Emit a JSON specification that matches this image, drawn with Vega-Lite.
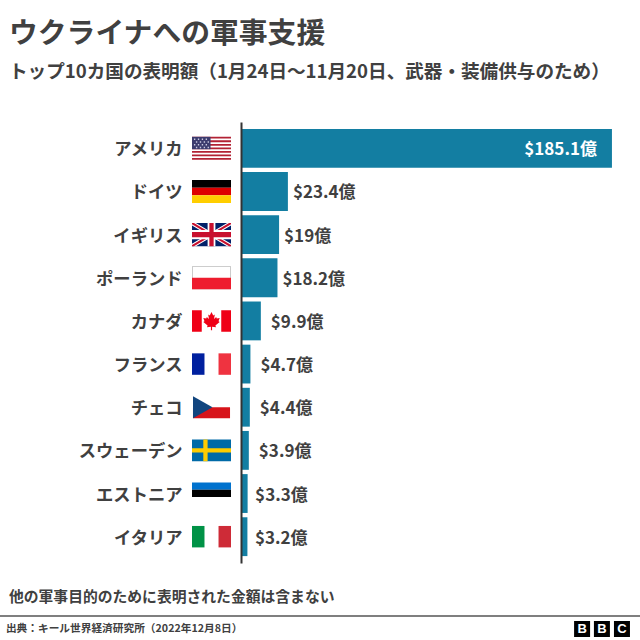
{"$schema":"https://vega.github.io/schema/vega-lite/v6.json","width":640,"height":441,"autosize":{"type":"none"},"padding":{"left":0,"top":122,"right":0,"bottom":77},"background":"white","config":{"font":"Noto Sans CJK JP","view":{"stroke":null}},"title":{"text":"ウクライナへの軍事支援","subtitle":"トップ10カ国の表明額（1月24日～11月20日、武器・装備供与のため）","anchor":"start","frame":"group","dx":9,"offset":40,"font":"Noto Sans CJK JP","fontSize":28.8,"fontWeight":"bold","color":"#404040","subtitleFont":"Noto Sans CJK JP","subtitleFontSize":18.6,"subtitleFontWeight":"bold","subtitleColor":"#404040","subtitlePadding":15},"datasets":{"aid":[{"country":"アメリカ","value":185.1,"label":"$185.1億"},{"country":"ドイツ","value":23.4,"label":"$23.4億"},{"country":"イギリス","value":19,"label":"$19億"},{"country":"ポーランド","value":18.2,"label":"$18.2億"},{"country":"カナダ","value":9.9,"label":"$9.9億"},{"country":"フランス","value":4.7,"label":"$4.7億"},{"country":"チェコ","value":4.4,"label":"$4.4億"},{"country":"スウェーデン","value":3.9,"label":"$3.9億"},{"country":"エストニア","value":3.3,"label":"$3.3億"},{"country":"イタリア","value":3.2,"label":"$3.2億"}],"flags":[{"country":"アメリカ","part":"us-red","pos":-14.72},{"country":"アメリカ","part":"us-blue","pos":-14.72},{"country":"アメリカ","part":"us-stars","pos":-14.72},{"country":"ドイツ","part":"de-black","pos":-14.72},{"country":"ドイツ","part":"de-red","pos":-14.72},{"country":"ドイツ","part":"de-gold","pos":-14.72},{"country":"イギリス","part":"uk-blue","pos":-14.72},{"country":"イギリス","part":"uk-wdiag","pos":-14.72},{"country":"イギリス","part":"uk-rdiag","pos":-14.72},{"country":"イギリス","part":"uk-wcross","pos":-14.72},{"country":"イギリス","part":"uk-rcross","pos":-14.72},{"country":"ポーランド","part":"pl-frame","pos":-14.72},{"country":"ポーランド","part":"pl-white","pos":-14.72},{"country":"ポーランド","part":"pl-red","pos":-14.72},{"country":"カナダ","part":"ca-bars","pos":-14.72},{"country":"カナダ","part":"ca-leaf","pos":-14.72},{"country":"フランス","part":"fr-blue","pos":-14.72},{"country":"フランス","part":"fr-red","pos":-14.72},{"country":"チェコ","part":"cz-red","pos":-14.72},{"country":"チェコ","part":"cz-blue","pos":-14.72},{"country":"スウェーデン","part":"se-blue","pos":-14.72},{"country":"スウェーデン","part":"se-yellow","pos":-14.72},{"country":"エストニア","part":"ee-blue","pos":-14.72},{"country":"エストニア","part":"ee-black","pos":-14.72},{"country":"イタリア","part":"it-green","pos":-14.72},{"country":"イタリア","part":"it-red","pos":-14.72}],"footer":[{"line":"note","text":"他の軍事目的のために表明された金額は含まない","pos":-115.8},{"line":"source","text":"出典：キール世界経済研究所（2022年12月8日）","pos":-117.3}],"logo":[{"line":"source","letter":"B","pos":170.2},{"line":"source","letter":"B ","pos":180.1},{"line":"source","letter":"C","pos":190.1}],"rule":[{"line":"rule"}]},"resolve":{"scale":{"y":"independent"},"axis":{"y":"independent"}},"layer":[{"data":{"name":"aid"},"mark":{"type":"bar","color":"#137ea2"},"encoding":{"x":{"field":"value","type":"quantitative","axis":null,"scale":{"domain":[-120.26,199.1],"nice":false,"zero":false}},"y":{"field":"country","type":"nominal","title":null,"scale":{"type":"band","domain":["アメリカ","ドイツ","イギリス","ポーランド","カナダ","フランス","チェコ","スウェーデン","エストニア","イタリア"],"paddingInner":0.1,"paddingOuter":0.16},"axis":{"orient":"left","offset":-241,"ticks":false,"domainColor":"#333333","domainWidth":2,"labelPadding":59,"labelOffset":2,"labelFont":"Noto Sans CJK JP","labelFontSize":17.3,"labelFontWeight":"bold","labelColor":"#404040","zindex":1}}}},{"data":{"name":"aid"},"transform":[{"filter":"datum.value > 100"}],"mark":{"type":"text","align":"right","dx":-15,"dy":2,"font":"Noto Sans CJK JP","fontSize":17,"fontWeight":"bold","color":"white"},"encoding":{"x":{"field":"value","type":"quantitative"},"text":{"field":"label"},"y":{"field":"country","type":"nominal","axis":null,"scale":{"type":"band","domain":["アメリカ","ドイツ","イギリス","ポーランド","カナダ","フランス","チェコ","スウェーデン","エストニア","イタリア"],"paddingInner":0.1,"paddingOuter":0.16}}}},{"data":{"name":"aid"},"transform":[{"filter":"datum.value <= 100 && datum.value >= 18"}],"mark":{"type":"text","align":"left","dx":5,"dy":2,"font":"Noto Sans CJK JP","fontSize":17,"fontWeight":"bold","color":"#404040"},"encoding":{"x":{"field":"value","type":"quantitative"},"text":{"field":"label"},"y":{"field":"country","type":"nominal","axis":null,"scale":{"type":"band","domain":["アメリカ","ドイツ","イギリス","ポーランド","カナダ","フランス","チェコ","スウェーデン","エストニア","イタリア"],"paddingInner":0.1,"paddingOuter":0.16}}}},{"data":{"name":"aid"},"transform":[{"filter":"datum.value < 18 && datum.value >= 3.5"}],"mark":{"type":"text","align":"left","dx":10,"dy":2,"font":"Noto Sans CJK JP","fontSize":17,"fontWeight":"bold","color":"#404040"},"encoding":{"x":{"field":"value","type":"quantitative"},"text":{"field":"label"},"y":{"field":"country","type":"nominal","axis":null,"scale":{"type":"band","domain":["アメリカ","ドイツ","イギリス","ポーランド","カナダ","フランス","チェコ","スウェーデン","エストニア","イタリア"],"paddingInner":0.1,"paddingOuter":0.16}}}},{"data":{"name":"aid"},"transform":[{"filter":"datum.value < 3.5"}],"mark":{"type":"text","align":"left","dx":7.5,"dy":2,"font":"Noto Sans CJK JP","fontSize":17,"fontWeight":"bold","color":"#404040"},"encoding":{"x":{"field":"value","type":"quantitative"},"text":{"field":"label"},"y":{"field":"country","type":"nominal","axis":null,"scale":{"type":"band","domain":["アメリカ","ドイツ","イギリス","ポーランド","カナダ","フランス","チェコ","スウェーデン","エストニア","イタリア"],"paddingInner":0.1,"paddingOuter":0.16}}}},{"data":{"name":"flags"},"mark":{"type":"point","filled":true,"opacity":1,"size":1521,"strokeWidth":0},"encoding":{"x":{"field":"pos","type":"quantitative"},"y":{"field":"country","type":"nominal","axis":null,"scale":{"type":"band","domain":["アメリカ","ドイツ","イギリス","ポーランド","カナダ","フランス","チェコ","スウェーデン","エストニア","イタリア"],"paddingInner":0.1,"paddingOuter":0.16}},"shape":{"field":"part","type":"nominal","legend":null,"scale":{"domain":["us-red","us-blue","us-stars","de-black","de-red","de-gold","uk-blue","uk-wdiag","uk-rdiag","uk-wcross","uk-rcross","pl-frame","pl-white","pl-red","ca-bars","ca-leaf","fr-blue","fr-red","cz-red","cz-blue","se-blue","se-yellow","ee-blue","ee-black","it-green","it-red"],"range":["M-1 -.59H1V-.499H-1ZM-1 -.408H1V-.317H-1ZM-1 -.226H1V-.135H-1ZM-1 -.045H1V.045H-1ZM-1 .135H1V.226H-1ZM-1 .317H1V.408H-1ZM-1 .499H1V.59H-1Z","M-1 -.59H-.05V.045H-1Z","M-.9 -.5h.07v.07h-.07zM-.7 -.5h.07v.07h-.07zM-.5 -.5h.07v.07h-.07zM-.3 -.5h.07v.07h-.07zM-.8 -.36h.07v.07h-.07zM-.6 -.36h.07v.07h-.07zM-.4 -.36h.07v.07h-.07zM-.2 -.36h.07v.07h-.07zM-.9 -.22h.07v.07h-.07zM-.7 -.22h.07v.07h-.07zM-.5 -.22h.07v.07h-.07zM-.3 -.22h.07v.07h-.07zM-.8 -.08h.07v.07h-.07zM-.6 -.08h.07v.07h-.07zM-.4 -.08h.07v.07h-.07zM-.2 -.08h.07v.07h-.07z","M-1 -.59H1V-.197H-1Z","M-1 -.197H1V.197H-1Z","M-1 .197H1V.59H-1Z","M-1 -.59H1V.59H-1Z","M-1 -.59L-.8 -.59L1 .47L1 .59L.8 .59L-1 -.47ZM1 -.59L.8 -.59L-1 .47L-1 .59L-.8 .59L1 -.47Z","M-1 -.59L-.9 -.59L1 .53L1 .59L.9 .59L-1 -.53ZM1 -.59L.9 -.59L-1 .53L-1 .59L-.9 .59L1 -.53Z","M-.2 -.59H.2V-.24H1V.24H.2V.59H-.2V.24H-1V-.24H-.2Z","M-.11 -.59H.11V-.14H1V.14H.11V.59H-.11V.14H-1V-.14H-.11Z","M-1 -.59H1V.59H-1Z","M-.96 -.55H.96V.02H-.96Z","M-1 0H1V.59H-1Z","M-1 -.55H-.5V.55H-1ZM.5 -.55H1V.55H.5Z","M0 -.46L.09 -.28L.17 -.33L.13 -.1L.24 -.2L.27 -.12L.42 -.15L.36 .02L.42 .06L.2 .24L.23 .33L.03 .3V.48H-.03V.3L-.23 .33L-.2 .24L-.42 .06L-.36 .02L-.42 -.15L-.27 -.12L-.24 -.2L-.13 -.1L-.17 -.33L-.09 -.28Z","M-1 -.55H-.36V.55H-1Z","M.36 -.55H1V.55H.36Z","M-.95 0H.95V.56H-.95Z","M-.95 -.56L.05 0L-.95 .56Z","M-1 -.56H1V.56H-1Z","M-.42 -.56H-.2V-.11H1V.11H-.2V.56H-.42V.11H-1V-.11H-.42Z","M-1 -.56H1V-.19H-1Z","M-1 -.19H1V.18H-1Z","M-1 -.55H-.36V.55H-1Z","M.36 -.55H1V.55H.36Z"]}},"color":{"field":"part","type":"nominal","legend":null,"scale":{"domain":["us-red","us-blue","us-stars","de-black","de-red","de-gold","uk-blue","uk-wdiag","uk-rdiag","uk-wcross","uk-rcross","pl-frame","pl-white","pl-red","ca-bars","ca-leaf","fr-blue","fr-red","cz-red","cz-blue","se-blue","se-yellow","ee-blue","ee-black","it-green","it-red"],"range":["#b22234","#3c3b6e","#c9c9e0","#000000","#dd0000","#ffce00","#012169","#ffffff","#c8102e","#ffffff","#c8102e","#bdbdbd","#ffffff","#ee1c2e","#ef0016","#ef0016","#00209f","#ef3340","#d7141a","#11457e","#006aa7","#fecc00","#0072ce","#000000","#009246","#ce2b37"]}}}},{"data":{"name":"rule"},"mark":{"type":"rule","color":"#555555","strokeWidth":1.5},"encoding":{"y":{"field":"line","type":"nominal","axis":null,"scale":{"type":"point","domain":["note","rule","source"],"range":[481,507],"padding":0}}}},{"data":{"name":"footer"},"transform":[{"filter":"datum.line === 'note'"}],"mark":{"type":"text","align":"left","dy":-5,"font":"Noto Sans CJK JP","fontSize":14.8,"fontWeight":"bold","color":"#404040"},"encoding":{"x":{"field":"pos","type":"quantitative"},"text":{"field":"text"},"y":{"field":"line","type":"nominal","axis":null,"scale":{"type":"point","domain":["note","rule","source"],"range":[481,507],"padding":0}}}},{"data":{"name":"footer"},"transform":[{"filter":"datum.line === 'source'"}],"mark":{"type":"text","align":"left","font":"Noto Sans CJK JP","fontSize":10.7,"fontWeight":"bold","color":"#404040"},"encoding":{"x":{"field":"pos","type":"quantitative"},"text":{"field":"text"},"y":{"field":"line","type":"nominal","axis":null,"scale":{"type":"point","domain":["note","rule","source"],"range":[481,507],"padding":0}}}},{"data":{"name":"logo"},"mark":{"type":"point","shape":"square","filled":true,"opacity":1,"size":256,"color":"#000000","strokeWidth":0},"encoding":{"x":{"field":"pos","type":"quantitative"},"y":{"field":"line","type":"nominal","axis":null,"scale":{"type":"point","domain":["note","rule","source"],"range":[481,507],"padding":0}}}},{"data":{"name":"logo"},"mark":{"type":"text","font":"Liberation Sans","fontSize":13,"fontWeight":"bold","color":"white"},"encoding":{"x":{"field":"pos","type":"quantitative"},"text":{"field":"letter"},"y":{"field":"line","type":"nominal","axis":null,"scale":{"type":"point","domain":["note","rule","source"],"range":[481,507],"padding":0}}}}]}
